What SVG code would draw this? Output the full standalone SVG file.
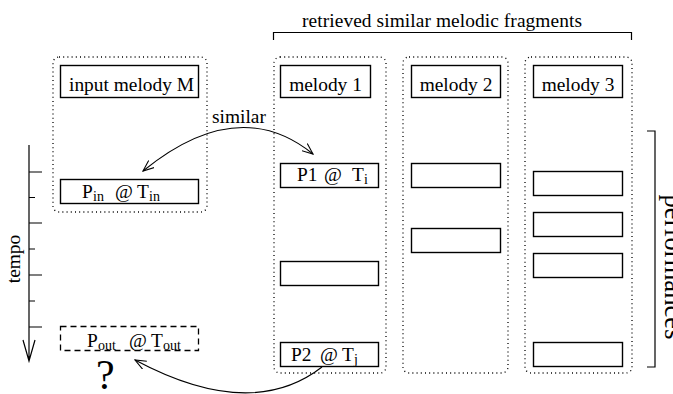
<svg xmlns="http://www.w3.org/2000/svg" width="673" height="394" viewBox="0 0 673 394">
<defs>
<style>
text{font-family:"Liberation Serif","Times New Roman",serif;font-size:19.4px;fill:#000}
.sub{font-size:14px}
.box{fill:#fff;stroke:#000;stroke-width:1.4}
.dash{fill:none;stroke:#000;stroke-width:1.3;stroke-dasharray:6 4}
.col{fill:none;stroke:#000;stroke-width:1.3;stroke-dasharray:1 3.2;stroke-linecap:butt}
.ln{fill:none;stroke:#000;stroke-width:1.2}
.arc{fill:none;stroke:#000;stroke-width:1.1}
</style>
<marker id="ah" viewBox="0 0 12 10" refX="11" refY="5" markerWidth="12" markerHeight="10" markerUnits="userSpaceOnUse" orient="auto-start-reverse">
<path d="M0,0.5 L11,5 L0,9.5" fill="none" stroke="#000" stroke-width="1.1"/>
</marker>
</defs>
<rect width="673" height="394" fill="#fff"/>

<g id="columns">
<rect class="col" x="53" y="57" width="154" height="155" rx="6"/>
<rect class="col" x="274" y="57" width="112" height="316" rx="6"/>
<rect class="col" x="403" y="57" width="105" height="316" rx="6"/>
<rect class="col" x="525" y="57" width="107" height="316" rx="6"/>
</g>

<g id="retrieved-bracket">
<path class="ln" d="M273.5,40 V32.5 H631.5 V40"/>
<text x="442" y="27" text-anchor="middle" textLength="280">retrieved similar melodic fragments</text>
</g>

<g id="performances-bracket">
<path class="ln" d="M647,131 H655 V367 H647"/>
<text transform="translate(665,267) rotate(90)" text-anchor="middle" style="font-size:26.5px" textLength="145">performances</text>
</g>

<g id="tempo-axis">
<path class="ln" d="M29,145 V361 M23,340 L29,361 L35,340"/>
<path class="ln" d="M29,172 H42 M29,197.5 H35 M29,223 H42 M29,249 H35 M29,275 H42 M29,301 H35 M29,327 H42"/>
<text transform="translate(20,259) rotate(-90)" text-anchor="middle">tempo</text>
</g>

<g id="input-melody">
<rect class="box" x="60.5" y="65.5" width="138" height="32"/>
<text x="131.5" y="91" text-anchor="middle">input melody M</text>
</g>
<g id="p-in">
<rect class="box" x="60.5" y="179.5" width="138" height="24"/>
<text x="82" y="198">P</text><text class="sub" x="93" y="201">in</text>
<text x="115" y="198">@</text>
<text x="137" y="198">T</text><text class="sub" x="149" y="201">in</text>
</g>
<g id="p-out">
<rect class="dash" x="60.5" y="326.5" width="138" height="24"/>
<text x="87" y="347">P</text><text class="sub" x="98" y="350">out</text>
<text x="129" y="347">@</text>
<text x="151" y="347">T</text><text class="sub" x="163" y="350">out</text>
</g>
<g id="question">
<text x="96" y="389" style="font-size:42px">?</text>
</g>

<g id="melody-1">
<rect class="box" x="280.5" y="65.5" width="90" height="32"/>
<text x="325.5" y="91" text-anchor="middle">melody 1</text>
</g>
<g id="p1">
<rect class="box" x="280.5" y="163.5" width="98" height="24"/>
<text x="297" y="181">P1</text>
<text x="324" y="181">@</text>
<text x="352" y="181">T</text><text class="sub" x="364" y="184">i</text>
</g>
<g id="m1-perf2">
<rect class="box" x="280.5" y="261.5" width="98" height="24"/>
</g>
<g id="p2">
<rect class="box" x="280.5" y="342.5" width="98" height="24"/>
<text x="291" y="361">P2</text>
<text x="320" y="361">@</text>
<text x="342" y="361">T</text><text class="sub" x="354" y="364">j</text>
</g>

<g id="melody-2">
<rect class="box" x="411.5" y="65.5" width="89" height="32"/>
<text x="456" y="91" text-anchor="middle">melody 2</text>
</g>
<g id="m2-perf1"><rect class="box" x="411.5" y="163.5" width="89" height="24"/></g>
<g id="m2-perf2"><rect class="box" x="411.5" y="228.5" width="89" height="24"/></g>

<g id="melody-3">
<rect class="box" x="533.5" y="65.5" width="89" height="32"/>
<text x="578" y="91" text-anchor="middle">melody 3</text>
</g>
<g id="m3-perf1"><rect class="box" x="533.5" y="171.5" width="89" height="24"/></g>
<g id="m3-perf2"><rect class="box" x="533.5" y="212.5" width="89" height="24"/></g>
<g id="m3-perf3"><rect class="box" x="533.5" y="253.5" width="89" height="24"/></g>
<g id="m3-perf4"><rect class="box" x="533.5" y="342.5" width="89" height="24"/></g>

<g id="connectors">
<path class="arc" d="M143,171 Q238,93.5 313,154" marker-start="url(#ah)" marker-end="url(#ah)"/>
<text x="212" y="123">similar</text>
<path class="arc" d="M322,367 Q251,422 135,360" marker-end="url(#ah)"/>
</g>
</svg>
